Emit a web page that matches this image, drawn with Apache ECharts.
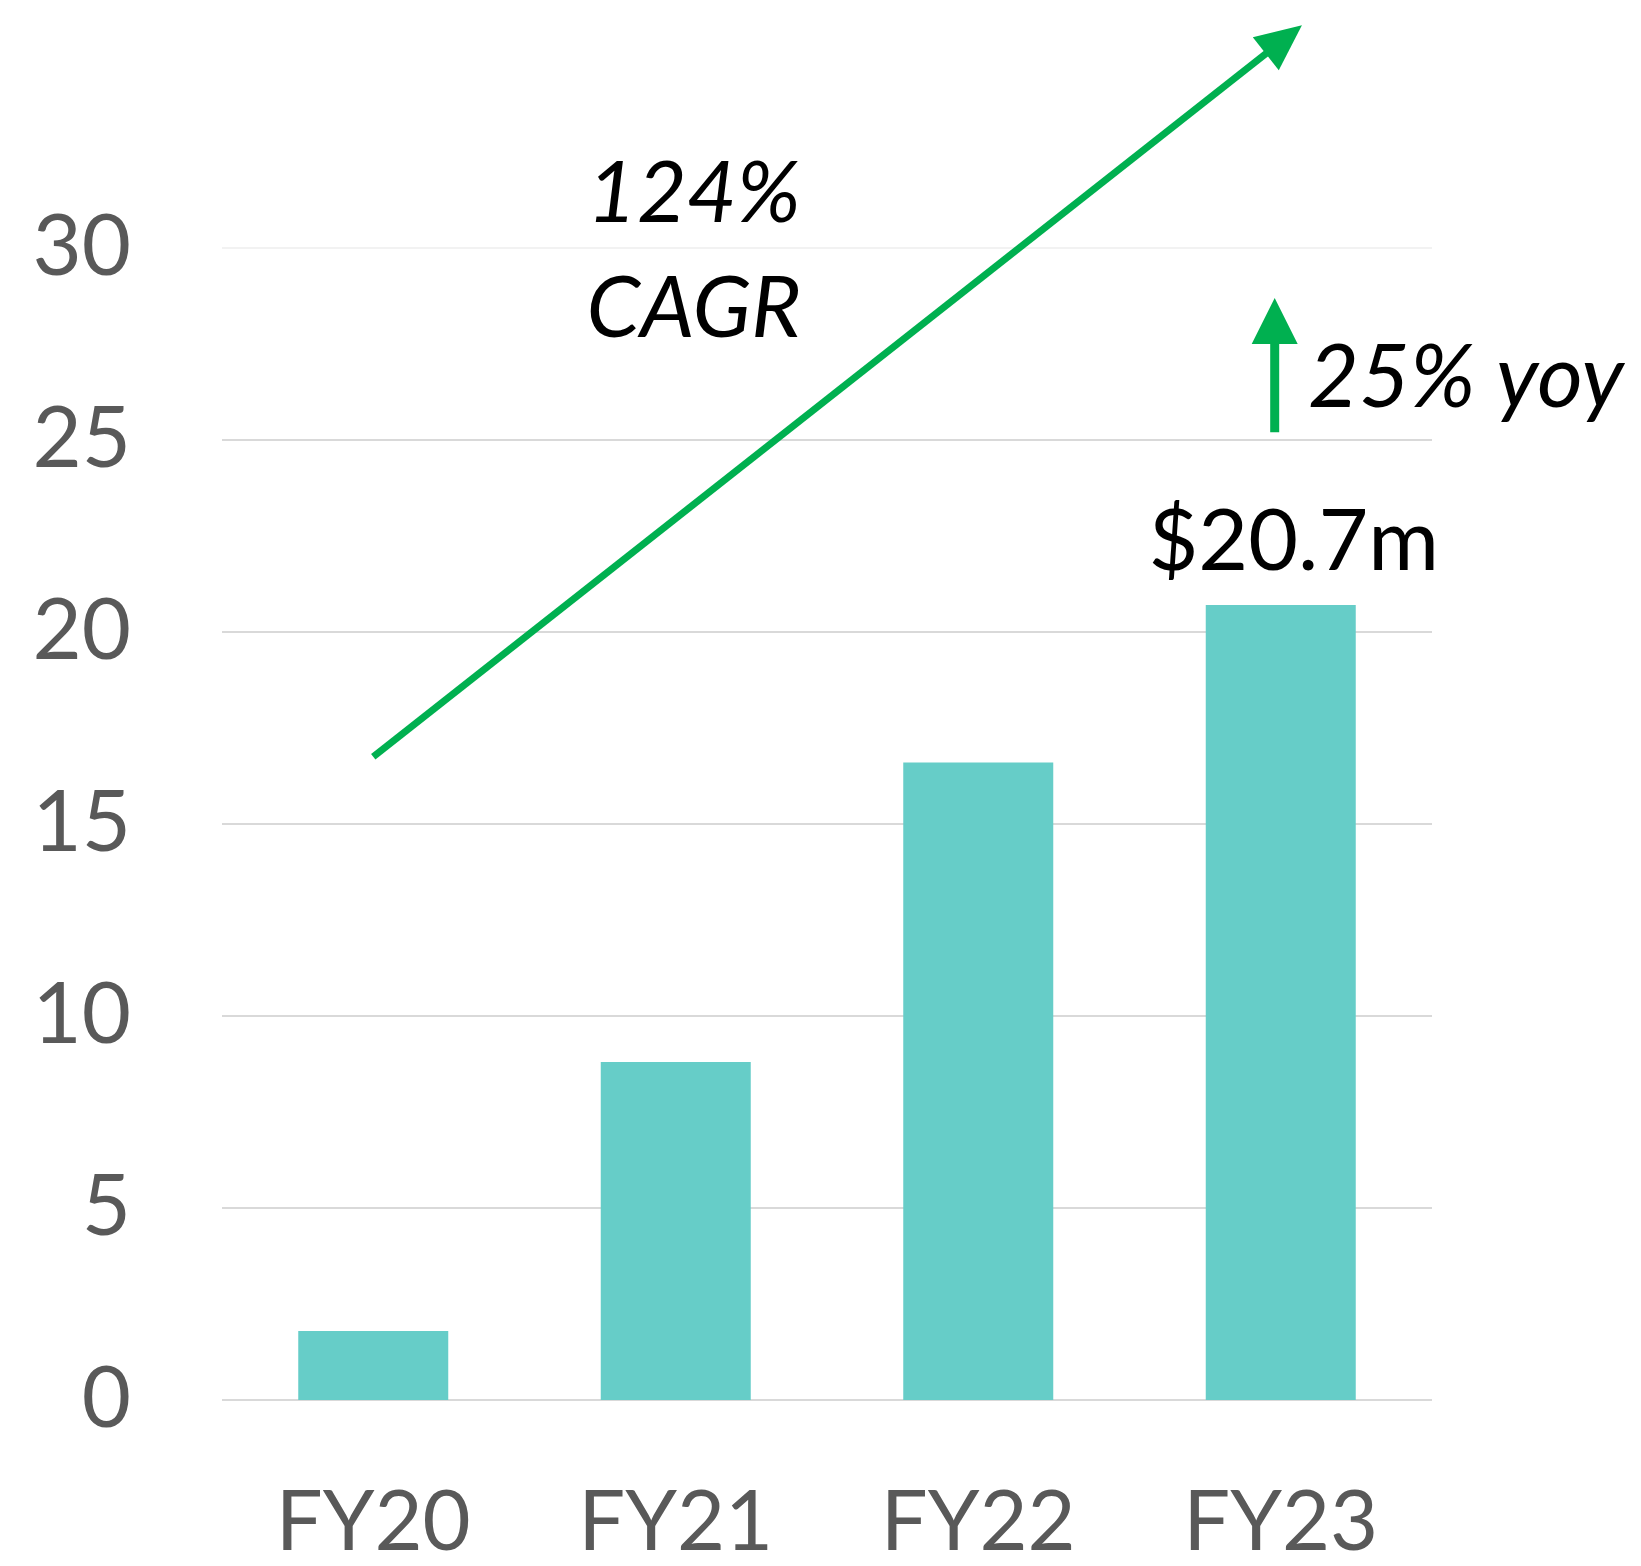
<!DOCTYPE html>
<html>
<head>
<meta charset="UTF-8">
<title>Revenue FY20 - FY23</title>
<script src="https://cdn.jsdelivr.net/npm/echarts@6/dist/echarts.min.js"></script>
<style>
  html, body { margin: 0; padding: 0; background: #fff; }
  #chart { width: 1641px; height: 1566px; }
</style>
</head>
<body>
<div id="chart"></div>
<script>
// data
const years = ['FY20', 'FY21', 'FY22', 'FY23'];
const revenue = [1.8, 8.8, 16.6, 20.7];
const lastLabel = '$20.7m';
const cagrLines = ['124%', 'CAGR'];
const yoyText = '25% yoy';

// annotation anchors in data units: [category index, value]
const cagrArrow = [[0, 16.75], [3.07, 35.8]];
const yoyArrow = [[2.98, 25.2], [2.98, 28.7]];
const cagrTextPos = [[1.06, 31.4], [1.06, 28.4]];
const yoyTextPos = [3.09, 26.6];

const green = '#00b050';
const font = 'Lato';

let chart = echarts.init(document.getElementById('chart'));

chart.setOption({
    animation: false,
    grid: { left: 222, right: 209, top: 248, bottom: 166 },
    xAxis: {
        type: 'category',
        data: years,
        axisLine: { show: false },
        axisTick: { show: false },
        axisLabel: { color: '#595959', fontSize: 83, fontFamily: font, margin: 82 }
    },
    yAxis: {
        type: 'value',
        min: 0, max: 30, interval: 5,
        axisLine: { show: false },
        axisTick: { show: false },
        axisLabel: { color: '#595959', fontSize: 85, fontFamily: font, margin: 91 },
        splitLine: {
            lineStyle: {
                width: 2,
                color: ['#d9d9d9', '#d9d9d9', '#d9d9d9', '#d9d9d9', '#d9d9d9', '#d9d9d9', '#f2f2f2']
            }
        }
    },
    series: [{
        type: 'bar',
        barWidth: 150,
        itemStyle: { color: '#66cdc8' },
        data: revenue.map((v, i) => i === revenue.length - 1 ? {
            value: v,
            label: {
                show: true, position: 'top', distance: 20, offset: [13, 0],
                formatter: lastLabel, color: '#000', fontSize: 86, fontFamily: font
            }
        } : v)
    }]
});

// data -> pixel, with fractional category positions
function px(c, v) {
    const x0 = chart.convertToPixel({ xAxisIndex: 0 }, 0);
    const x1 = chart.convertToPixel({ xAxisIndex: 0 }, 1);
    return [x0 + (x1 - x0) * c, chart.convertToPixel({ yAxisIndex: 0 }, v)];
}

function arrow(a, b, width, headLen, headHalf) {
    const p0 = px(a[0], a[1]), p1 = px(b[0], b[1]);
    const dx = p1[0] - p0[0], dy = p1[1] - p0[1];
    const len = Math.sqrt(dx * dx + dy * dy);
    const ux = dx / len, uy = dy / len;
    const bx = p1[0] - ux * headLen, by = p1[1] - uy * headLen;
    return [
        { type: 'line', shape: { x1: p0[0], y1: p0[1], x2: bx + ux * 2, y2: by + uy * 2 },
          style: { stroke: green, lineWidth: width } },
        { type: 'polygon',
          shape: { points: [p1, [bx - uy * headHalf, by + ux * headHalf], [bx + uy * headHalf, by - ux * headHalf]] },
          style: { fill: green } }
    ];
}

function label(pos, text, align, size) {
    const p = px(pos[0], pos[1]);
    return {
        type: 'text',
        style: {
            x: p[0], y: p[1], text: text,
            fill: '#000', fontSize: size, fontFamily: font, fontStyle: 'italic',
            align: align, verticalAlign: 'middle',
            textAlign: align, textVerticalAlign: 'middle'
        }
    };
}

chart.setOption({
    graphic: [].concat(
        arrow(cagrArrow[0], cagrArrow[1], 7, 46, 21),
        arrow(yoyArrow[0], yoyArrow[1], 9, 46, 23),
        label(cagrTextPos[0], cagrLines[0], 'center', 86),
        label(cagrTextPos[1], cagrLines[1], 'center', 86),
        label(yoyTextPos, yoyText, 'left', 88)
    )
});
</script>
</body>
</html>
